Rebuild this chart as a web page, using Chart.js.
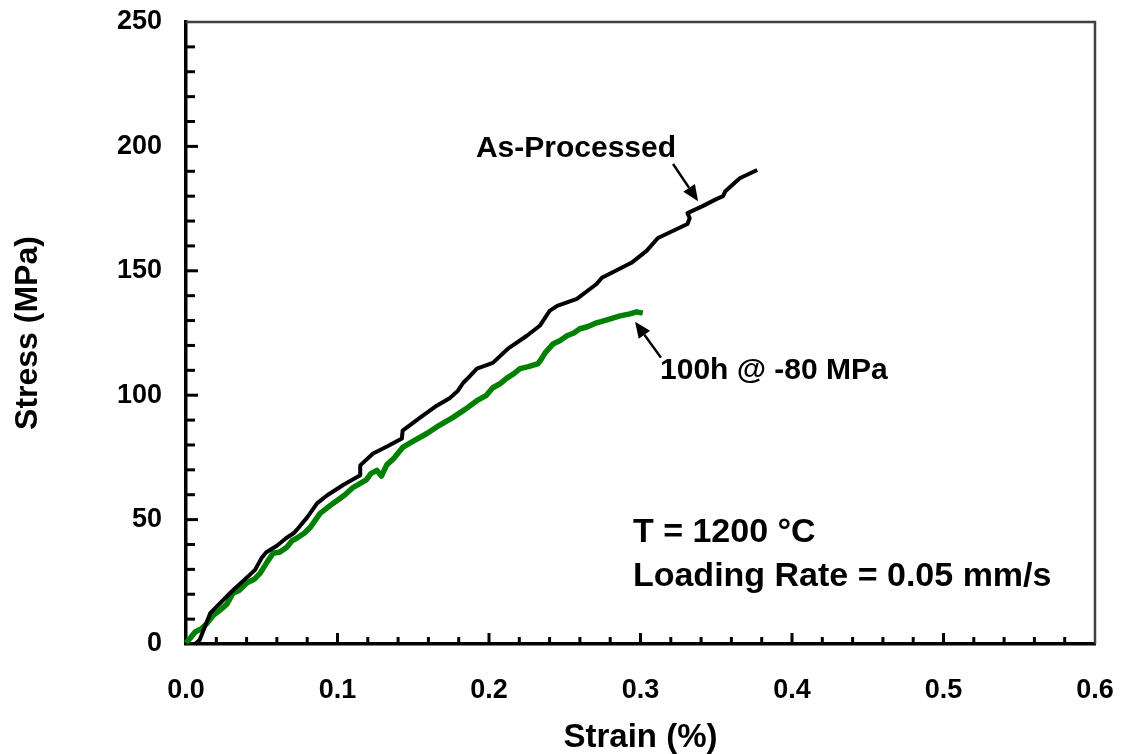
<!DOCTYPE html>
<html>
<head>
<meta charset="utf-8">
<script src="https://cdn.jsdelivr.net/npm/chart.js@4.4.1/dist/chart.umd.min.js"></script>
<style>
  html, body { margin: 0; padding: 0; background: #fff; }
  #wrap { width: 1121px; height: 754px; }
</style>
</head>
<body>
<div id="wrap"><canvas id="c" width="1121" height="754"></canvas></div>
<script>
// ---- Data ----
const asProcessedStrain = [0.006, 0.009, 0.016, 0.030, 0.044, 0.0455, 0.050, 0.053, 0.060, 0.066, 0.071, 0.074, 0.080, 0.0865, 0.093, 0.104, 0.115, 0.115, 0.1235, 0.133, 0.1425, 0.143, 0.1545, 0.1655, 0.174, 0.1795, 0.183, 0.1855, 0.192, 0.2025, 0.2125, 0.225, 0.2335, 0.240, 0.245, 0.258, 0.271, 0.2745, 0.294, 0.304, 0.3115, 0.331, 0.3325, 0.331, 0.341, 0.350, 0.3545, 0.356, 0.3655, 0.377];
const asProcessedStress = [0, 1.6, 12.4, 21, 28.9, 29.7, 34.7, 36.9, 39.5, 42.5, 44.5, 46.5, 50.9, 56.5, 59.7, 64, 67.8, 71.8, 76.6, 79.5, 82.6, 85.8, 91, 95.8, 98.8, 101.8, 105, 106.5, 110.7, 113, 118.7, 123.9, 127.9, 133.9, 135.9, 138.7, 144.7, 147.2, 153.2, 158, 163.2, 168.8, 171.2, 173.2, 176, 178.8, 180, 182, 187.2, 190.5];

const agedStrain = [0, 0.003, 0.006, 0.010, 0.014, 0.018, 0.0225, 0.027, 0.031, 0.035, 0.040, 0.045, 0.049, 0.0535, 0.0575, 0.062, 0.0665, 0.070, 0.074, 0.078, 0.082, 0.0885, 0.097, 0.105, 0.110, 0.115, 0.119, 0.122, 0.126, 0.129, 0.1325, 0.137, 0.143, 0.150, 0.159, 0.167, 0.176, 0.184, 0.192, 0.198, 0.2025, 0.207, 0.212, 0.216, 0.2205, 0.226, 0.2325, 0.235, 0.237, 0.2425, 0.247, 0.2515, 0.256, 0.260, 0.265, 0.271, 0.279, 0.2865, 0.293, 0.2975, 0.3015];
const agedStress = [0.4, 2.5, 4.8, 6.0, 8.4, 11.5, 13.6, 16.0, 20.4, 21.5, 24.5, 26.0, 28.5, 32.9, 36.5, 37.0, 38.9, 41.5, 42.9, 44.5, 46.9, 52.5, 56.5, 60.0, 62.8, 64.6, 66.0, 68.5, 69.8, 67.5, 72.0, 74.5, 79.0, 81.5, 84.6, 87.8, 91.0, 94.2, 97.8, 99.8, 103.0, 104.5, 107.0, 108.5, 110.7, 111.5, 112.7, 115.0, 117.0, 120.7, 122.0, 123.9, 125.0, 126.7, 127.5, 129.1, 130.5, 131.9, 132.7, 133.5, 133.0];

const xRange = [0, 0.6];
const yRange = [0, 250];
const xMajorStep = 0.1, xMinorStep = 0.02;
const yMajorStep = 50, yMinorStep = 10;

const seriesLabels = ['As-Processed', '100h @ -80 MPa'];
const xTitle = 'Strain (%)';
const yTitle = 'Stress (MPa)';
const noteLines = ['T = 1200 °C', 'Loading Rate = 0.05 mm/s'];

// annotation anchors in data units
const labelAsProcessed = { x: 0.2574, y: 198.9 };
const arrowAsProcessed = { from: { x: 0.3215, y: 192.9 }, to: { x: 0.338, y: 178.0 } };
const labelAged = { x: 0.3129, y: 109.9 };
const arrowAged = { from: { x: 0.3135, y: 115.1 }, to: { x: 0.2964, y: 129.5 } };
const notePos = [{ x: 0.295, y: 44.9 }, { x: 0.295, y: 26.9 }];

const FONT = '"Liberation Sans", Arial, sans-serif';

function toPts(xs, ys) { return xs.map((v, i) => ({ x: v, y: ys[i] })); }

const decor = {
  id: 'decor',
  beforeDatasetsDraw(chart) {
    const { ctx, chartArea: a, scales: { x, y } } = chart;
    ctx.save();
    // top & right frame
    ctx.strokeStyle = '#404040';
    ctx.lineWidth = 2.5;
    ctx.beginPath();
    ctx.moveTo(a.left, a.top);
    ctx.lineTo(a.right, a.top);
    ctx.lineTo(a.right, a.bottom);
    ctx.stroke();
    // inward ticks
    ctx.strokeStyle = '#000';
    ctx.lineWidth = 3;
    ctx.lineCap = 'butt';
    const nx = Math.round((xRange[1] - xRange[0]) / xMinorStep);
    const perX = Math.round(xMajorStep / xMinorStep);
    for (let i = 1; i < nx; i++) {
      const px = x.getPixelForValue(xRange[0] + i * xMinorStep);
      const len = i % perX === 0 ? 11 : 7;
      ctx.beginPath(); ctx.moveTo(px, a.bottom); ctx.lineTo(px, a.bottom - len); ctx.stroke();
    }
    const ny = Math.round((yRange[1] - yRange[0]) / yMinorStep);
    const perY = Math.round(yMajorStep / yMinorStep);
    for (let i = 1; i < ny; i++) {
      const py = y.getPixelForValue(yRange[0] + i * yMinorStep);
      const len = i % perY === 0 ? 12 : 9;
      ctx.beginPath(); ctx.moveTo(a.left, py); ctx.lineTo(a.left + len, py); ctx.stroke();
    }
    ctx.restore();
  },
  afterDatasetsDraw(chart) {
    const { ctx, scales: { x, y } } = chart;
    const P = (p) => ({ x: x.getPixelForValue(p.x), y: y.getPixelForValue(p.y) });
    ctx.save();
    ctx.fillStyle = '#000';
    ctx.strokeStyle = '#000';
    function arrow(ar) {
      const f = P(ar.from), t = P(ar.to);
      const ang = Math.atan2(t.y - f.y, t.x - f.x);
      const hl = 16, hw = 7;
      const bx = t.x - hl * Math.cos(ang), by = t.y - hl * Math.sin(ang);
      ctx.lineWidth = 2.5;
      ctx.beginPath(); ctx.moveTo(f.x, f.y); ctx.lineTo(bx, by); ctx.stroke();
      ctx.beginPath();
      ctx.moveTo(t.x, t.y);
      ctx.lineTo(bx + hw * Math.sin(ang), by - hw * Math.cos(ang));
      ctx.lineTo(bx - hw * Math.sin(ang), by + hw * Math.cos(ang));
      ctx.closePath(); ctx.fill();
    }
    arrow(arrowAsProcessed);
    arrow(arrowAged);
    ctx.textBaseline = 'middle';
    ctx.font = 'bold 30px ' + FONT;
    ctx.textAlign = 'center';
    let p = P(labelAsProcessed);
    ctx.fillText(seriesLabels[0], p.x, p.y);
    ctx.textAlign = 'left';
    p = P(labelAged);
    ctx.fillText(seriesLabels[1], p.x, p.y);
    ctx.font = 'bold 34px ' + FONT;
    noteLines.forEach((t, i) => { const q = P(notePos[i]); ctx.fillText(t, q.x, q.y); });
    ctx.restore();
  }
};

function zeroPad(s) { s.paddingTop = 0; s.paddingBottom = 0; s.paddingLeft = 0; s.paddingRight = 0; }

new Chart(document.getElementById('c'), {
  type: 'scatter',
  data: {
    datasets: [
      {
        label: seriesLabels[0],
        data: toPts(asProcessedStrain, asProcessedStress),
        showLine: true, borderColor: '#000000', borderWidth: 4,
        pointRadius: 0, tension: 0, clip: false, borderJoinStyle: 'round'
      },
      {
        label: seriesLabels[1],
        data: toPts(agedStrain, agedStress),
        showLine: true, borderColor: '#008000', borderWidth: 5.5,
        pointRadius: 0, tension: 0, clip: false, borderJoinStyle: 'round'
      }
    ]
  },
  options: {
    responsive: false,
    animation: false,
    devicePixelRatio: 1,
    layout: { padding: { top: 22, right: 26, left: 0, bottom: 0 } },
    plugins: { legend: { display: false }, tooltip: { enabled: false } },
    scales: {
      x: {
        type: 'linear', min: xRange[0], max: xRange[1],
        grid: { display: false, drawTicks: false },
        border: { display: true, color: '#000', width: 3.5 },
        ticks: {
          stepSize: xMajorStep, color: '#000', padding: 30,
          font: { family: FONT, size: 27, weight: 'bold' },
          callback: (v) => Number(v).toFixed(1), maxRotation: 0
        },
        title: {
          display: true, text: xTitle, color: '#000',
          font: { family: FONT, size: 33, weight: 'bold', lineHeight: 1 },
          padding: { top: 0, bottom: 0 }
        },
        afterFit: (s) => { s.height = 110; zeroPad(s); }
      },
      y: {
        type: 'linear', min: yRange[0], max: yRange[1],
        grid: { display: false, drawTicks: false },
        border: { display: true, color: '#000', width: 3.5 },
        ticks: {
          stepSize: yMajorStep, color: '#000', padding: 24,
          font: { family: FONT, size: 27, weight: 'bold' }
        },
        title: {
          display: true, text: yTitle, color: '#000',
          font: { family: FONT, size: 32, weight: 'bold', lineHeight: 1 },
          padding: { top: 12, bottom: 0 }
        },
        afterFit: (s) => { s.width = 186; zeroPad(s); }
      }
    }
  },
  plugins: [decor]
});
</script>
</body>
</html>
